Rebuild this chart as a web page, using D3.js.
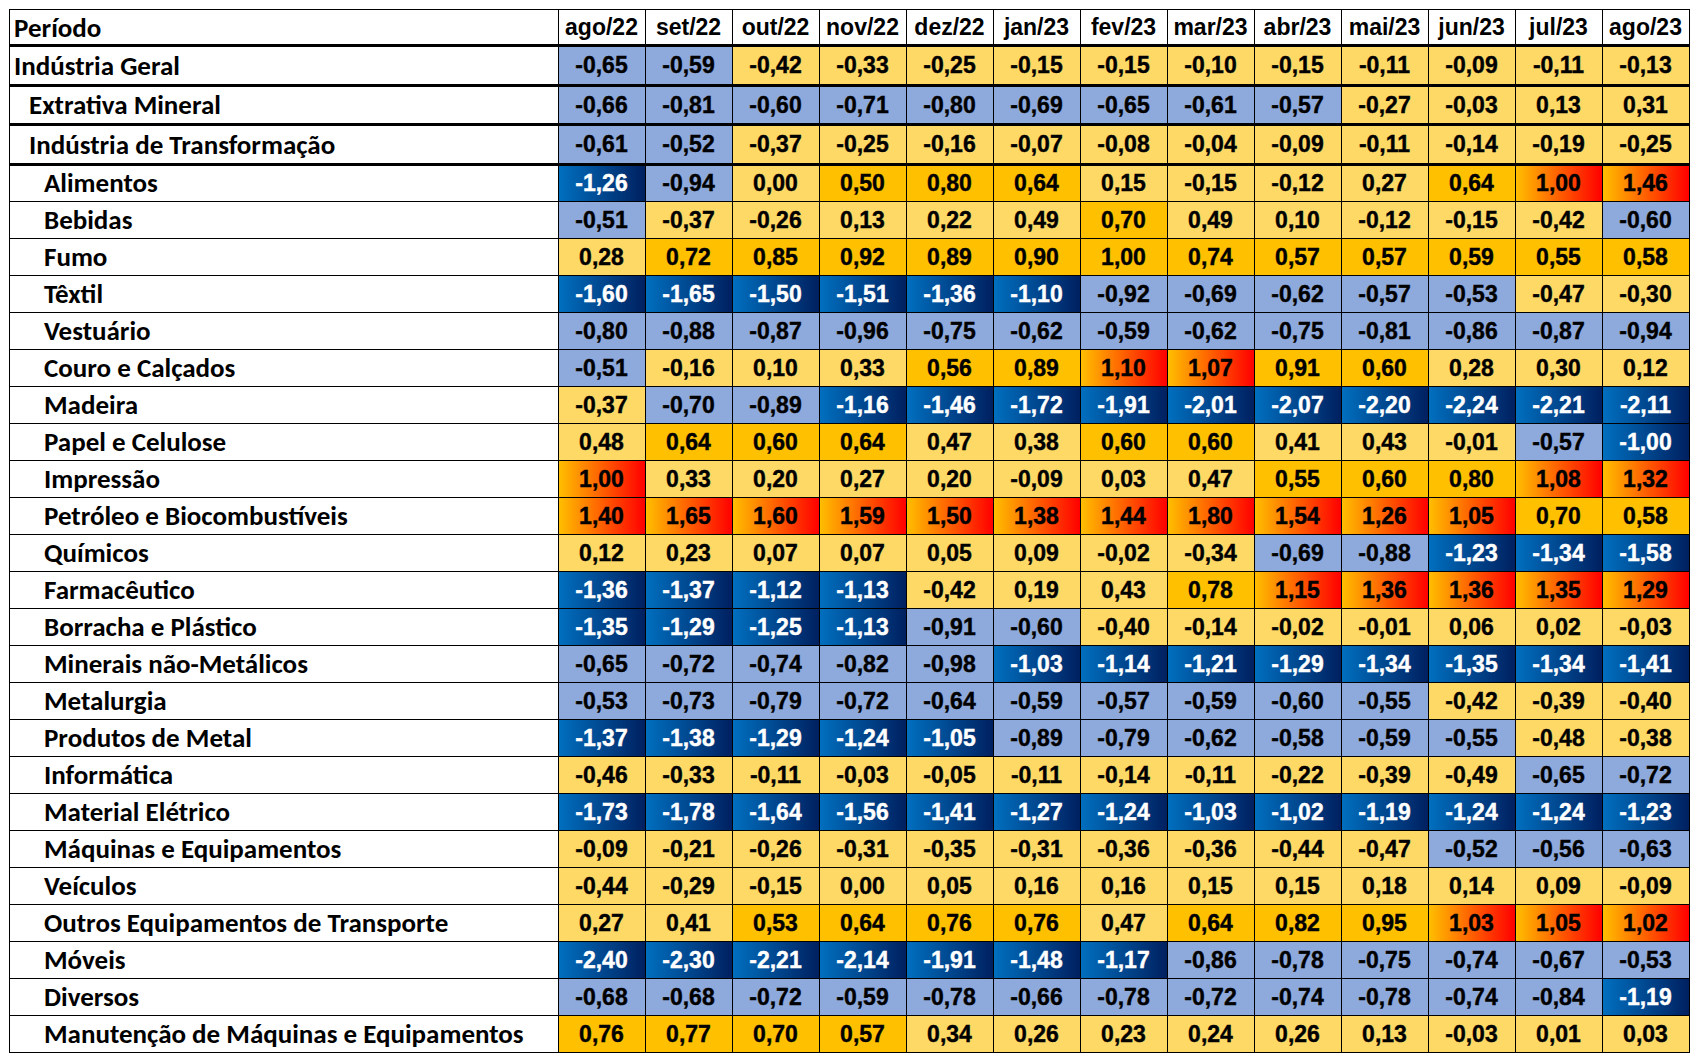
<!DOCTYPE html>
<html>
<head>
<meta charset="utf-8">
<script src="https://cdn.jsdelivr.net/npm/d3@7"></script>
<style>
  body { margin: 0; background: #fff; }
  svg { display: block; }
</style>
</head>
<body>
<div id="chart"></div>
<script>

// columns (months)
var months = ["ago/22", "set/22", "out/22", "nov/22", "dez/22", "jan/23", "fev/23",
              "mar/23", "abr/23", "mai/23", "jun/23", "jul/23", "ago/23"];

// row labels and their indent level
var rowLabels = ["Indústria Geral", "Extrativa Mineral", "Indústria de Transformação",
    "Alimentos", "Bebidas", "Fumo", "Têxtil", "Vestuário", "Couro e Calçados", "Madeira",
    "Papel e Celulose", "Impressão", "Petróleo e Biocombustíveis", "Químicos", "Farmacêutico",
    "Borracha e Plástico", "Minerais não-Metálicos", "Metalurgia", "Produtos de Metal",
    "Informática", "Material Elétrico", "Máquinas e Equipamentos", "Veículos",
    "Outros Equipamentos de Transporte", "Móveis", "Diversos",
    "Manutenção de Máquinas e Equipamentos"];
var rowLevel = [0, 1, 1, 2, 2, 2, 2, 2, 2, 2, 2, 2, 2, 2, 2, 2, 2, 2, 2, 2, 2, 2, 2, 2, 2, 2, 2];

// values, one array per row
var geral        = [-0.65, -0.59, -0.42, -0.33, -0.25, -0.15, -0.15, -0.10, -0.15, -0.11, -0.09, -0.11, -0.13];
var extrativa    = [-0.66, -0.81, -0.60, -0.71, -0.80, -0.69, -0.65, -0.61, -0.57, -0.27, -0.03, 0.13, 0.31];
var transformacao= [-0.61, -0.52, -0.37, -0.25, -0.16, -0.07, -0.08, -0.04, -0.09, -0.11, -0.14, -0.19, -0.25];
var alimentos    = [-1.26, -0.94, 0.00, 0.50, 0.80, 0.64, 0.15, -0.15, -0.12, 0.27, 0.64, 1.00, 1.46];
var bebidas      = [-0.51, -0.37, -0.26, 0.13, 0.22, 0.49, 0.70, 0.49, 0.10, -0.12, -0.15, -0.42, -0.60];
var fumo         = [0.28, 0.72, 0.85, 0.92, 0.89, 0.90, 0.998, 0.74, 0.57, 0.57, 0.59, 0.55, 0.58];
var textil       = [-1.60, -1.65, -1.50, -1.51, -1.36, -1.10, -0.92, -0.69, -0.62, -0.57, -0.53, -0.47, -0.30];
var vestuario    = [-0.80, -0.88, -0.87, -0.96, -0.75, -0.62, -0.59, -0.62, -0.75, -0.81, -0.86, -0.87, -0.94];
var couro        = [-0.51, -0.16, 0.10, 0.33, 0.56, 0.89, 1.10, 1.07, 0.91, 0.60, 0.28, 0.30, 0.12];
var madeira      = [-0.37, -0.70, -0.89, -1.16, -1.46, -1.72, -1.91, -2.01, -2.07, -2.20, -2.24, -2.21, -2.11];
var papel        = [0.48, 0.64, 0.60, 0.64, 0.47, 0.38, 0.60, 0.60, 0.41, 0.43, -0.01, -0.57, -1.00];
var impressao    = [1.00, 0.33, 0.20, 0.27, 0.20, -0.09, 0.03, 0.47, 0.55, 0.60, 0.80, 1.08, 1.32];
var petroleo     = [1.40, 1.65, 1.60, 1.59, 1.50, 1.38, 1.44, 1.80, 1.54, 1.26, 1.05, 0.70, 0.58];
var quimicos     = [0.12, 0.23, 0.07, 0.07, 0.05, 0.09, -0.02, -0.34, -0.69, -0.88, -1.23, -1.34, -1.58];
var farmaceutico = [-1.36, -1.37, -1.12, -1.13, -0.42, 0.19, 0.43, 0.78, 1.15, 1.36, 1.36, 1.35, 1.29];
var borracha     = [-1.35, -1.29, -1.25, -1.13, -0.91, -0.60, -0.40, -0.14, -0.02, -0.01, 0.06, 0.02, -0.03];
var minerais     = [-0.65, -0.72, -0.74, -0.82, -0.98, -1.03, -1.14, -1.21, -1.29, -1.34, -1.35, -1.34, -1.41];
var metalurgia   = [-0.53, -0.73, -0.79, -0.72, -0.64, -0.59, -0.57, -0.59, -0.60, -0.55, -0.42, -0.39, -0.40];
var prodMetal    = [-1.37, -1.38, -1.29, -1.24, -1.05, -0.89, -0.79, -0.62, -0.58, -0.59, -0.55, -0.48, -0.38];
var informatica  = [-0.46, -0.33, -0.11, -0.03, -0.05, -0.11, -0.14, -0.11, -0.22, -0.39, -0.49, -0.65, -0.72];
var matEletrico  = [-1.73, -1.78, -1.64, -1.56, -1.41, -1.27, -1.24, -1.03, -1.02, -1.19, -1.24, -1.24, -1.23];
var maquinas     = [-0.09, -0.21, -0.26, -0.31, -0.35, -0.31, -0.36, -0.36, -0.44, -0.47, -0.52, -0.56, -0.63];
var veiculos     = [-0.44, -0.29, -0.15, 0.00, 0.05, 0.16, 0.16, 0.15, 0.15, 0.18, 0.14, 0.09, -0.09];
var outrosTransp = [0.27, 0.41, 0.53, 0.64, 0.76, 0.76, 0.47, 0.64, 0.82, 0.95, 1.03, 1.05, 1.02];
var moveis       = [-2.40, -2.30, -2.21, -2.14, -1.91, -1.48, -1.17, -0.86, -0.78, -0.75, -0.74, -0.67, -0.53];
var diversos     = [-0.68, -0.68, -0.72, -0.59, -0.78, -0.66, -0.78, -0.72, -0.74, -0.78, -0.74, -0.84, -1.19];
var manutencao   = [0.76, 0.77, 0.70, 0.57, 0.34, 0.26, 0.23, 0.24, 0.26, 0.13, -0.03, 0.01, 0.03];

var values = [geral, extrativa, transformacao, alimentos, bebidas, fumo, textil, vestuario,
    couro, madeira, papel, impressao, petroleo, quimicos, farmaceutico, borracha, minerais,
    metalurgia, prodMetal, informatica, matEletrico, maquinas, veiculos, outrosTransp,
    moveis, diversos, manutencao];

var W = 1699, H = 1061;
var tLeft = 9, labelRight = 558, tRight = 1689;
var tTop = 9, headBottom = 45, topRowsBottom = 164, tBottom = 1052;
var nTop = 3;

var ptBR = d3.formatLocale({ decimal: ",", thousands: ".", grouping: [3], currency: ["R$", ""], minus: "-" });
var fmt = ptBR.format(".2f");

var x = d3.scaleBand().domain(months).range([labelRight, tRight]);
var yTop = d3.scaleBand().domain(d3.range(0, nTop)).range([headBottom, topRowsBottom]);
var yBody = d3.scaleBand().domain(d3.range(nTop, rowLabels.length)).range([topRowsBottom, tBottom]);

function rowY(i) { return i < nTop ? yTop(i) : yBody(i); }
function rowH(i) { return i < nTop ? yTop.bandwidth() : yBody.bandwidth(); }

function cellFill(v) {
    if (v >= 1) return "url(#gradHot)";
    if (v >= 0.5) return "#FFC000";
    if (v > -0.5) return "#FFD966";
    if (v > -1) return "#8EA9DB";
    return "url(#gradCold)";
}

var svg = d3.select("#chart").append("svg")
    .attr("width", W)
    .attr("height", H);

var defs = svg.append("defs");
var g1 = defs.append("linearGradient").attr("id", "gradHot");
g1.append("stop").attr("offset", "0%").attr("stop-color", "#FFC000");
g1.append("stop").attr("offset", "100%").attr("stop-color", "#FF0000");
var g2 = defs.append("linearGradient").attr("id", "gradCold");
g2.append("stop").attr("offset", "0%").attr("stop-color", "#0070C0");
g2.append("stop").attr("offset", "100%").attr("stop-color", "#002060");

svg.append("rect").attr("width", W).attr("height", H).attr("fill", "#fff");

// cells
var cells = [];
values.forEach(function (row, i) {
    row.forEach(function (v, j) {
        cells.push({ r: i, m: months[j], v: v });
    });
});

svg.append("g").selectAll("rect")
    .data(cells)
    .join("rect")
    .attr("x", function (d) { return x(d.m); })
    .attr("y", function (d) { return rowY(d.r); })
    .attr("width", x.bandwidth())
    .attr("height", function (d) { return rowH(d.r); })
    .attr("fill", function (d) { return cellFill(d.v); })
    .attr("shape-rendering", "crispEdges");

svg.append("g").selectAll("text")
    .data(cells)
    .join("text")
    .attr("x", function (d) { return x(d.m) + x.bandwidth() / 2; })
    .attr("y", function (d) { return rowY(d.r) + rowH(d.r) / 2; })
    .attr("dy", "0.36em")
    .attr("text-anchor", "middle")
    .style("font-family", "'Liberation Sans', Arial, sans-serif")
    .style("font-weight", "bold")
    .style("font-size", "23px")
    .attr("fill", function (d) { return d.v <= -1 ? "#fff" : "#000"; })
    .attr("stroke", function (d) { return d.v <= -1 ? "#fff" : "#000"; })
    .attr("stroke-width", 0.4)
    .text(function (d) { return fmt(d.v); });

// header
svg.append("g").selectAll("text")
    .data(months)
    .join("text")
    .attr("x", function (d) { return x(d) + x.bandwidth() / 2; })
    .attr("y", (tTop + headBottom) / 2)
    .attr("dy", "0.36em")
    .attr("text-anchor", "middle")
    .style("font-family", "'Liberation Sans', Arial, sans-serif")
    .style("font-weight", "bold")
    .style("font-size", "23px")
    .text(function (d) { return d; });

// row labels
var labelFont = "Carlito, Calibri, Lato, sans-serif";
var labels = svg.append("g");
labels.append("text")
    .attr("x", 14)
    .attr("y", (tTop + headBottom) / 2)
    .attr("dy", "0.36em")
    .text("Período");
labels.selectAll("text.row")
    .data(rowLabels)
    .join("text")
    .attr("class", "row")
    .attr("x", function (d, i) { return 14 + rowLevel[i] * 15; })
    .attr("y", function (d, i) { return rowY(i) + rowH(i) / 2; })
    .attr("dy", "0.36em")
    .text(function (d) { return d; });
labels.selectAll("text")
    .style("font-family", labelFont)
    .style("font-weight", "bold")
    .style("font-size", "24px");

// fit label font to the width of the longest label
var longest = labels.selectAll("text.row").filter(function (d) { return d === "Manutenção de Máquinas e Equipamentos"; });
var wNow = longest.node().getComputedTextLength();
var labelSize = Math.min(27, 24 * 496 / wNow);
labels.selectAll("text").style("font-size", labelSize + "px");

// grid lines
var grid = svg.append("g").attr("stroke", "#000").attr("shape-rendering", "crispEdges");
var vx = [tLeft, labelRight].concat(months.map(function (m) { return x(m) + x.bandwidth(); }));
grid.selectAll("line.v")
    .data(vx)
    .join("line")
    .attr("class", "v")
    .attr("x1", function (d) { return Math.round(d) + 0.5; })
    .attr("x2", function (d) { return Math.round(d) + 0.5; })
    .attr("y1", tTop)
    .attr("y2", tBottom + 1)
    .attr("stroke-width", 1);

var hy = [tTop].concat(d3.range(nTop, rowLabels.length).map(function (i) { return rowY(i) + rowH(i); }));
grid.selectAll("line.h")
    .data(hy)
    .join("line")
    .attr("class", "h")
    .attr("x1", tLeft)
    .attr("x2", tRight + 1)
    .attr("y1", function (d) { return Math.round(d) + 0.5; })
    .attr("y2", function (d) { return Math.round(d) + 0.5; })
    .attr("stroke-width", 1);

var thick = [headBottom].concat(d3.range(0, nTop).map(function (i) { return rowY(i) + rowH(i); }));
grid.selectAll("line.t")
    .data(thick)
    .join("line")
    .attr("class", "t")
    .attr("x1", tLeft)
    .attr("x2", tRight + 1)
    .attr("y1", function (d) { return Math.round(d); })
    .attr("y2", function (d) { return Math.round(d); })
    .attr("stroke-width", 3);

</script>
</body>
</html>
